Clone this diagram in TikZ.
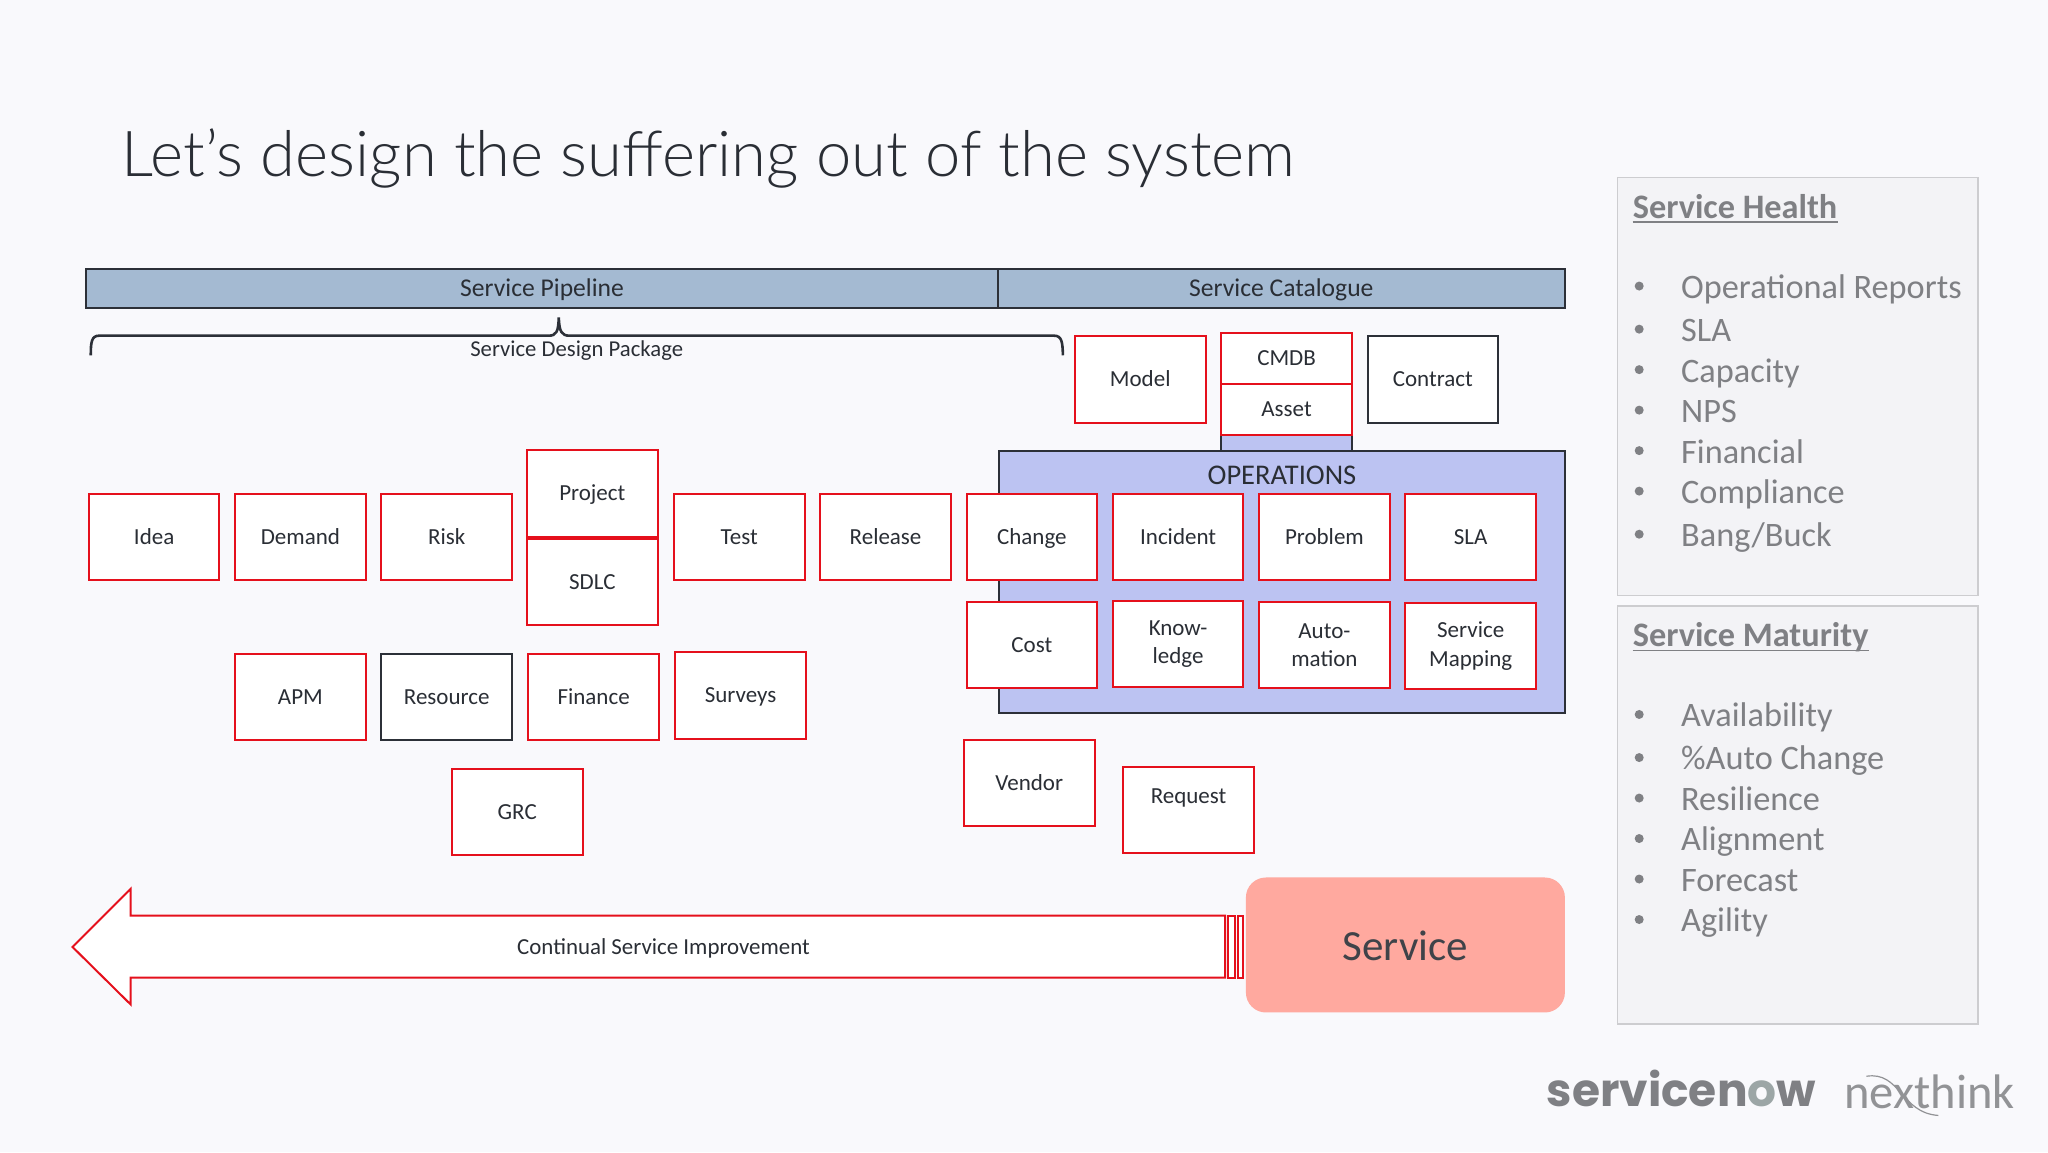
\documentclass[tikz,border=0pt]{standalone}
\usepackage{fontspec}
\setmainfont{Carlito}
\newfontfamily\lightf{Lato Light}
\newfontfamily\snowf{Poppins}
\definecolor{bg}{HTML}{F9F9FC}
\definecolor{redl}{HTML}{E5101C}
\definecolor{darkl}{HTML}{2C3038}
\definecolor{ink}{HTML}{2A2E35}
\definecolor{barblue}{HTML}{A4BAD2}
\definecolor{lav}{HTML}{BCC3F2}
\definecolor{salmon}{HTML}{FFA99F}
\definecolor{panel}{HTML}{F3F3F6}
\definecolor{panelb}{HTML}{CDCDD0}
\definecolor{gtext}{HTML}{7F8084}
\definecolor{logoo}{HTML}{9CA6A6}
\tikzset{
  boxtwo/.style={draw=redl,fill=white,line width=2pt,minimum width=130.6pt,minimum height=86.5pt,inner sep=0pt,align=center,text=ink,font=\fontsize{23}{28.5}\selectfont},
  box/.style={boxtwo,text height=14.5pt,text depth=0pt},
  kbox/.style={box,draw=darkl},
  bar/.style={draw=darkl,fill=barblue,line width=2pt},
  barlabel/.style={text=ink,inner sep=0pt,font=\fontsize{25.6}{28}\selectfont},
  panelbox/.style={draw=panelb,fill=panel,line width=1.5pt},
  head/.style={anchor=base west,inner sep=0pt,text=gtext,font=\fontsize{34.3}{36}\selectfont\bfseries},
  item/.style={anchor=base west,inner sep=0pt,text=gtext,font=\fontsize{34.3}{36}\selectfont},
  dot/.style={circle,fill=gtext,draw=none,minimum size=9pt,inner sep=0pt},
}
\newcommand{\ulhead}[3]{%
  \node[head] (#1) at (#2) {#3};
  \draw[gtext,line width=1.6pt] ([yshift=-4pt]#1.base west) -- ([yshift=-4pt]#1.base east);
}
\newcommand{\bul}[3]{%
  \node[dot] at (1255,#1-1) {};
  \node[item] (#2) at (1287,#1+8.5) {#3};
}
\begin{document}
\begin{tikzpicture}[x=1.30612pt,y=-1.30612pt]
\useasboundingbox (0,0) rectangle (1568,882);
\fill[bg] (0,0) rectangle (1568,882);
% title
\node[anchor=base west,inner sep=0pt,text=ink,font=\lightf\fontsize{63.3}{66}\selectfont] (title) at (93,135) {Let’s design the suffering out of the system};
% bars
\draw[bar] (66,206) rectangle (764,236);
\draw[bar] (764,206) rectangle (1198.5,236);
\node[barlabel] (pipe) at (415,221.5) {Service Pipeline};
\node[barlabel] (cat) at (981,222) {Service Catalogue};
% brace
\draw[darkl,line width=2.6pt] (69.5,272) .. controls (69.5,262) and (70,257) .. (76,257) -- (420,257) .. controls (426,257) and (427.5,254) .. (427.8,243) .. controls (428.2,254) and (430,257) .. (436,257) -- (807,257) .. controls (813,257) and (813.5,262) .. (813.8,272);
\node[inner sep=0pt,text=ink,font=\fontsize{22.7}{26}\selectfont] (sdp) at (441.5,268.5) {Service Design Package};
% operations
\draw[draw=darkl,fill=lav,line width=2pt] (935,333) rectangle (1035,346);
\draw[draw=darkl,fill=lav,line width=2pt] (764.5,345) rectangle (1198.5,546);
\node[inner sep=0pt,text=ink,font=\fontsize{28.5}{30}\selectfont] (ops) at (981.5,364) {OPERATIONS};
% top boxes
\node[box] (model) at (873,290.5) {Model};
\node[box,minimum height=51pt] (cmdb) at (985,274.5) {CMDB};
\node[box,minimum height=51pt] (asset) at (985,313.5) {Asset};
\node[kbox] (contract) at (1097,290.5) {Contract};
% row 1
\node[box] (idea) at (118,411) {Idea};
\node[box] (demand) at (230,411) {Demand};
\node[box] (risk) at (342,411) {Risk};
\node[box] (project) at (453.5,378) {Project};
\node[box] (sdlc) at (453.5,445.5) {SDLC};
\node[box] (test) at (566,411) {Test};
\node[box] (release) at (678,411) {Release};
\node[box] (change) at (790,411) {Change};
\node[box] (incident) at (902,411) {Incident};
\node[box] (problem) at (1014,411) {Problem};
\node[box] (sla) at (1126,411) {SLA};
% row 2
\node[box] (cost) at (790,494) {Cost};
\node[boxtwo] (know) at (902,493) {Know-\\ledge};
\node[boxtwo] (auto) at (1014,494) {Auto-\\mation};
\node[boxtwo] (map) at (1126,494.5) {Service\\Mapping};
% row 3
\node[box] (apm) at (230,533.5) {APM};
\node[kbox] (res) at (342,533.5) {Resource};
\node[box] (fin) at (454.5,533.5) {Finance};
\node[box] (surveys) at (567,532.5) {Surveys};
\node[box] (grc) at (396,621.5) {GRC};
\node[box] (vendor) at (788,599.5) {Vendor};
\node[boxtwo] (request) at (910,620) {};
\node[text=ink,inner sep=0pt,font=\fontsize{23}{26}\selectfont] (reqt) at (910,611) {Request};
% improvement arrow
\draw[draw=redl,fill=white,line width=2pt,line join=miter] (938,701) -- (100,701) -- (100,680.5) -- (55.5,725) -- (100,769) -- (100,748.5) -- (938,748.5) -- cycle;
\draw[draw=redl,fill=white,line width=2pt] (940.5,701) rectangle (945.5,748.5);
\draw[draw=redl,fill=white,line width=2pt] (948,701) rectangle (951.5,748.5);
\node[inner sep=0pt,text=ink,font=\fontsize{22.9}{26}\selectfont] (csi) at (508,726) {Continual Service Improvement};
\node[fill=salmon,draw=none,rounded corners=20pt,minimum width=319pt,minimum height=135pt,inner sep=0pt,text=ink!90,font=\fontsize{43}{46}\selectfont] (service) at (1076,723.5) {};
\node[inner sep=0pt,text=ink!90,font=\fontsize{43}{46}\selectfont] (servicet) at (1076,724.5) {Service};
% panels
\draw[panelbox] (1238.5,136) rectangle (1514.5,456);
\draw[panelbox] (1238.5,464) rectangle (1514.5,784);
\ulhead{h1}{1250,167}{Service Health}
\bul{220}{a1}{Operational Reports}
\bul{253}{a2}{SLA}
\bul{284}{a3}{Capacity}
\bul{315}{a4}{NPS}
\bul{346}{a5}{Financial}
\bul{377}{a6}{Compliance}
\bul{410}{a7}{Bang/Buck}
\ulhead{h2}{1250,495}{Service Maturity}
\bul{548}{b1}{Availability}
\bul{581}{b2}{\%Auto Change}
\bul{612}{b3}{Resilience}
\bul{643}{b4}{Alignment}
\bul{674}{b5}{Forecast}
\bul{705}{b6}{Agility}
% logos
\node[anchor=base west,inner sep=0pt,text=gtext,font=\snowf\fontsize{45.5}{50}\selectfont\bfseries] (snow) at (1184,847) {servicen\textcolor{logoo}{o}w};
\node[anchor=base west,inner sep=0pt,text=gtext!85,font=\fontsize{48.5}{52}\selectfont] (nxt) at (1412,849) {nexthink};
\draw[gtext!85,line width=1.2pt] (1429,824) .. controls (1455,820) and (1455,852) .. (1484,854);
\end{tikzpicture}
\end{document}
